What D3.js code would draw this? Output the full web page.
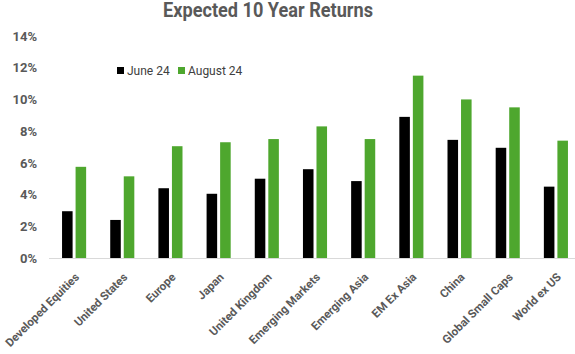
<!DOCTYPE html>
<html><head><meta charset="utf-8">
<script src="https://cdn.jsdelivr.net/npm/d3@7"></script>
<style>body{margin:0;background:#fff;}svg{display:block;font-family:Roboto, "Liberation Sans", sans-serif;}</style>
</head><body>
<svg id="c" width="575" height="354"></svg>
<script>
const categories = ["Developed Equities","United States","Europe","Japan","United Kingdom","Emerging Markets","Emerging Asia","EM Ex Asia","China","Global Small Caps","World ex US"];
const seriesNames = ["June 24","August 24"];
const june24 = [2.95,2.4,4.4,4.05,5.0,5.6,4.85,8.9,7.45,6.95,4.5];
const august24 = [5.75,5.15,7.05,7.3,7.5,8.3,7.5,11.5,10.0,9.5,7.4];
const yTicks = [0,2,4,6,8,10,12,14];
const colors = {"June 24":"#000000","August 24":"#4ea72e"};

const svg = d3.select("#c");
const y = d3.scaleLinear().domain([0,14]).range([258,36]);
const x0 = d3.scaleBand().domain(categories).range([50,580]).paddingInner(0.5).paddingOuter(0.25);
const x1 = d3.scaleBand().domain(seriesNames).range([0,x0.bandwidth()]).paddingInner(0.22);

svg.append("text").attr("x",268).attr("y",17).attr("text-anchor","middle")
  .attr("font-size",19.5).attr("font-weight","bold").attr("fill","#595959")
  .attr("textLength",210).attr("lengthAdjust","spacingAndGlyphs").text("Expected 10 Year Returns");

// y axis labels
const yAxis = d3.axisLeft(y).tickValues(yTicks).tickFormat(d=>d+"%").tickSize(0).tickPadding(0);
const ya = svg.append("g").attr("transform","translate(37,0)").call(yAxis);
ya.select(".domain").remove();
ya.selectAll("text").attr("font-size",13).attr("font-weight","bold").attr("fill","#595959").attr("font-family","Roboto");

const data = categories.map((c,i)=>({cat:c, vals:[{s:"June 24",v:june24[i]},{s:"August 24",v:august24[i]}]}));
const g = svg.append("g");
const grp = g.selectAll("g.grp").data(data).join("g").attr("transform",d=>`translate(${x0(d.cat)},0)`);
grp.selectAll("rect").data(d=>d.vals).join("rect")
  .attr("x",d=>x1(d.s)).attr("width",x1.bandwidth())
  .attr("y",d=>y(d.v)).attr("height",d=>y(0)-y(d.v))
  .attr("fill",d=>colors[d.s]);

// baseline
svg.append("line").attr("x1",49).attr("x2",575).attr("y1",y(0)+0.5).attr("y2",y(0)+0.5)
  .attr("stroke","#d9d9d9").attr("stroke-width",1);

// x labels
const xAxis = d3.axisBottom(x0).tickSize(0).tickPadding(0);
const xa = svg.append("g").attr("transform",`translate(0,${y(0)})`).call(xAxis);
xa.select(".domain").remove();
xa.selectAll("text").attr("font-size",11.5).attr("font-weight","bold").attr("fill","#595959").attr("font-family","Roboto")
  .attr("text-anchor","end").attr("dy","0.35em").attr("y",0)
  .attr("transform","translate(3,17) rotate(-45)");

// legend
const leg = svg.append("g");
const lx = [117,178];
seriesNames.forEach((s,i)=>{
  leg.append("rect").attr("x",lx[i]).attr("y",67).attr("width",7).attr("height",7).attr("fill",colors[s]);
  leg.append("text").attr("x",lx[i]+10).attr("y",70.5).attr("dy","0.35em").attr("font-size",12)
    .attr("fill","#404040").text(s);
});
</script>
</body></html>
